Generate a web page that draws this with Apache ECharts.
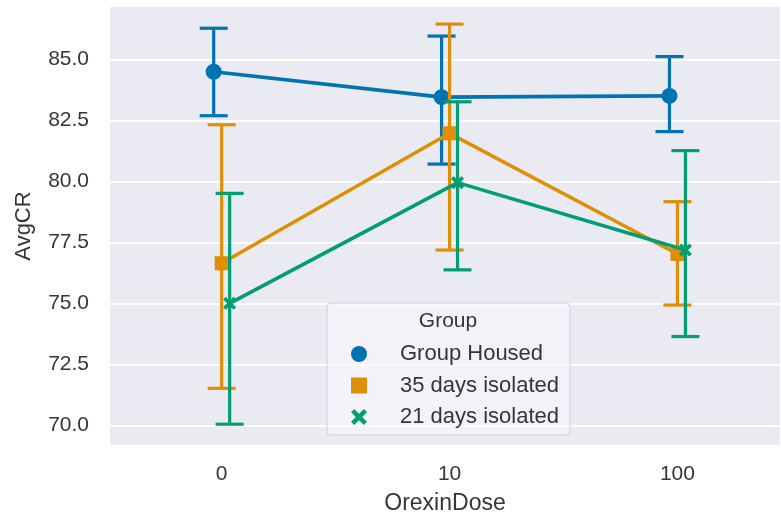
<!DOCTYPE html>
<html>
<head>
<meta charset="utf-8">
<script src="https://cdn.jsdelivr.net/npm/echarts@6/dist/echarts.min.js"></script>
<style>html,body{margin:0;padding:0;background:#fff;}#c{width:781px;height:517px;}</style>
</head>
<body>
<div id="c"></div>
<script>
// ---- data ----
var doses = ['0', '10', '100'];
var groups = ['Group Housed', '35 days isolated', '21 days isolated'];
var yTicks = [70.0, 72.5, 75.0, 77.5, 80.0, 82.5, 85.0];

var ghMean = [84.49, 83.45, 83.50];
var ghLow  = [82.69, 80.71, 82.04];
var ghHigh = [86.27, 85.95, 85.11];

var iso35Mean = [76.65, 81.97, 77.03];
var iso35Low  = [71.53, 77.19, 74.94];
var iso35High = [82.32, 86.44, 79.17];

var iso21Mean = [75.01, 79.95, 77.19];
var iso21Low  = [70.06, 76.38, 73.65];
var iso21High = [79.51, 83.26, 81.26];

// ---- style ----
var colors = ['#0173B2', '#DE8F05', '#029E73'];
var symbols = ['circle', 'rect', 'path://M0,2 L2,0 L5,3 L8,0 L10,2 L7,5 L10,8 L8,10 L5,7 L2,10 L0,8 L3,5 Z'];
var symbolSizes = [16, 14, 13];
var dodge = [-0.035, 0, 0.035];
var FONT = '"Liberation Sans", Arial, sans-serif';
var TXT = '#363636';

var means = [ghMean, iso35Mean, iso21Mean];
var lows = [ghLow, iso35Low, iso21Low];
var highs = [ghHigh, iso35High, iso21High];

var series = [];
groups.forEach(function (g, gi) {
  var errData = doses.map(function (d, i) { return [i + dodge[gi], lows[gi][i], highs[gi][i]]; });
  series.push({
    name: 'err_' + gi,
    type: 'custom',
    data: errData,
    z: 2 + gi * 2,
    silent: true,
    renderItem: function (params, api) {
      var x = api.value(0);
      var lo = api.coord([x, api.value(1)]);
      var hi = api.coord([x, api.value(2)]);
      var cap = 14;
      var st = { stroke: colors[gi], lineWidth: 3.2 };
      return {
        type: 'group',
        children: [
          { type: 'line', shape: { x1: lo[0], y1: lo[1], x2: hi[0], y2: hi[1] }, style: st },
          { type: 'line', shape: { x1: lo[0] - cap, y1: lo[1], x2: lo[0] + cap, y2: lo[1] }, style: st },
          { type: 'line', shape: { x1: hi[0] - cap, y1: hi[1], x2: hi[0] + cap, y2: hi[1] }, style: st }
        ]
      };
    }
  });
  series.push({
    name: g,
    type: 'line',
    z: 3 + gi * 2,
    data: doses.map(function (d, i) { return [i + dodge[gi], means[gi][i]]; }),
    symbol: symbols[gi],
    symbolSize: symbolSizes[gi],
    showSymbol: true,
    lineStyle: { color: colors[gi], width: 3.6 },
    itemStyle: { color: colors[gi] },
    emphasis: { disabled: true },
    animation: false
  });
});

var chart = echarts.init(document.getElementById('c'), null, { renderer: 'canvas' });
chart.setOption({
  animation: false,
  backgroundColor: '#ffffff',
  grid: {
    left: 110, right: 1, top: 7, bottom: 72,
    outerBoundsMode: 'none',
    containLabel: false,
    show: true, backgroundColor: '#EAEAF2', borderWidth: 0
  },
  xAxis: {
    type: 'value',
    min: -0.49, max: 2.45,
    name: 'OrexinDose',
    nameLocation: 'middle',
    nameGap: 47,
    nameTextStyle: { fontFamily: FONT, fontSize: 23, color: TXT },
    axisLine: { show: false },
    axisTick: { show: false },
    splitLine: { show: false },
    axisLabel: {
      customValues: [0, 1, 2],
      formatter: function (v) { return doses[Math.round(v)]; },
      fontFamily: FONT, fontSize: 21, color: TXT, margin: 19
    }
  },
  yAxis: {
    type: 'value',
    min: 69.21, max: 87.14,
    name: 'AvgCR',
    nameLocation: 'middle',
    nameGap: 75,
    nameTextStyle: { fontFamily: FONT, fontSize: 22, color: TXT },
    axisLine: { show: false },
    axisTick: { show: false, customValues: yTicks },
    splitLine: { show: true, lineStyle: { color: '#ffffff', width: 2 } },
    axisLabel: {
      customValues: yTicks,
      formatter: function (v) { return v.toFixed(1); },
      fontFamily: FONT, fontSize: 21, color: TXT, margin: 21
    }
  },
  legend: {
    orient: 'vertical',
    left: 346, top: 338,
    data: groups.map(function (g, gi) { return { name: g, icon: symbols[gi] }; }),
    itemWidth: 16, itemHeight: 16,
    itemGap: 9.5,
    textStyle: { fontFamily: FONT, fontSize: 22, color: TXT, padding: [0, 0, 0, 28], lineHeight: 18 },
    selectedMode: false,
    z: 20
  },
  graphic: [
    {
      type: 'rect', z: 15,
      shape: { x: 327, y: 303, width: 243, height: 132, r: 4 },
      style: { fill: 'rgba(246,246,250,0.65)', stroke: '#cfcfd8', lineWidth: 1 }
    },
    {
      type: 'text', z: 16,
      style: { x: 448, y: 321, text: 'Group', textAlign: 'center', textVerticalAlign: 'middle',
               font: '21px "Liberation Sans", Arial, sans-serif', fill: TXT }
    }
  ],
  series: series
});
</script>
</body>
</html>
